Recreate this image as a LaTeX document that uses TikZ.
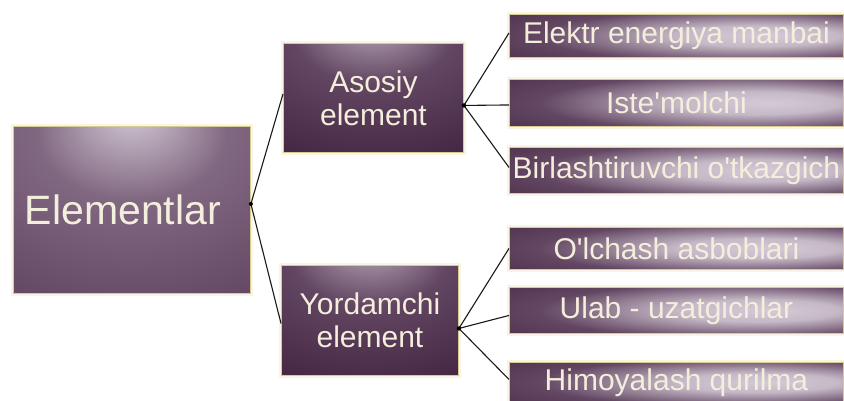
\documentclass[tikz,border=0pt]{standalone}
\usepackage{fontspec}
\setmainfont{Liberation Sans}[Ligatures=TeXOff]
\definecolor{boxdark}{RGB}{62,32,60}
\definecolor{boxmid}{RGB}{114,86,114}
\definecolor{boxlight}{RGB}{212,202,214}
\definecolor{edgegold}{RGB}{214,202,150}
\definecolor{glowy}{RGB}{250,245,222}
\definecolor{txt}{RGB}{244,238,220}
\pgfdeclareradialshading{rootshade}{\pgfpoint{0bp}{30bp}}{color(0bp)=(boxlight); color(20bp)=(boxmid!85!boxlight); color(55bp)=(boxmid!55!boxdark); color(85bp)=(boxdark)}
\pgfdeclareradialshading{midshade}{\pgfpoint{0bp}{38bp}}{color(0bp)=(boxlight!80!boxmid); color(22bp)=(boxmid!70!boxdark); color(55bp)=(boxdark); color(90bp)=(boxdark)}
\pgfdeclareradialshading{leafshade}{\pgfpoint{14bp}{0bp}}{color(0bp)=(boxlight); color(12bp)=(boxlight!85!boxmid); color(30bp)=(boxmid!70!boxdark); color(55bp)=(boxdark); color(90bp)=(boxdark)}
\tikzset{
  basebox/.style={rectangle, inner sep=0pt, anchor=north west, text=txt,
    draw=edgegold, line width=0.9pt,
    preaction={draw=glowy, line width=5pt}},
  rootbox/.style={basebox, shading=rootshade, font=\fontsize{41}{44}\selectfont},
  midbox/.style={basebox, shading=midshade, align=center, font=\fontsize{30}{33}\selectfont},
  leafbox/.style={basebox, shading=leafshade, minimum width=334pt, font=\fontsize{30}{32}\selectfont},
  link/.style={draw=black!90, line width=1.1pt},
  joint/.style={fill=black}
}
\begin{document}
\begin{tikzpicture}[x=1pt,y=-1pt]
\useasboundingbox[fill=white] (0,0) rectangle (844,401);
\node[rootbox, minimum width=237pt, minimum height=167pt] (el) at (13,126) {Elementlar\hspace*{18pt}};
\node[midbox, minimum width=180pt, minimum height=109pt] (as) at (283,43) {Asosiy\\element};
\node[midbox, minimum width=177pt, minimum height=110pt] (yo) at (281,265) {Yordamchi\\element};
\node[leafbox, minimum height=43pt] (b1) at (509,14) {Elektr energiya manbai};
\node[leafbox, minimum height=47pt] (b2) at (509,79) {Iste'molchi};
\node[leafbox, minimum height=46pt] (b3) at (509,147) {Birlashtiruvchi o'tkazgich};
\node[leafbox, minimum height=42pt] (b4) at (509,227) {O'lchash asboblari};
\node[leafbox, minimum height=46pt] (b5) at (509,287) {Ulab - uzatgichlar};
\node[leafbox, minimum height=40pt] (b6) at (509,362) {Himoyalash qurilma};
\coordinate (j0) at ([yshift=6pt]el.east);
\coordinate (j1) at ([yshift=-7.5pt]as.east);
\coordinate (j2) at ([yshift=-8pt]yo.east);
\draw[link] (j0) -- ([yshift=4pt]as.west);
\draw[link] (j0) -- ([yshift=-3pt]yo.west);
\draw[link] (j1) -- ([yshift=3pt]b1.west);
\draw[link] (j1) -- ([yshift=-2pt]b2.west);
\draw[link] (j1) -- ([yshift=3pt]b3.west);
\draw[link] (j2) -- (b4.west);
\draw[link] (j2) -- ([yshift=-5pt]b5.west);
\draw[link] (j2) -- ([yshift=3pt]b6.west);
\fill[joint] (j0) circle (2pt);
\fill[joint] (j1) circle (2.2pt);
\fill[joint] (j2) circle (2.2pt);
\end{tikzpicture}
\end{document}
